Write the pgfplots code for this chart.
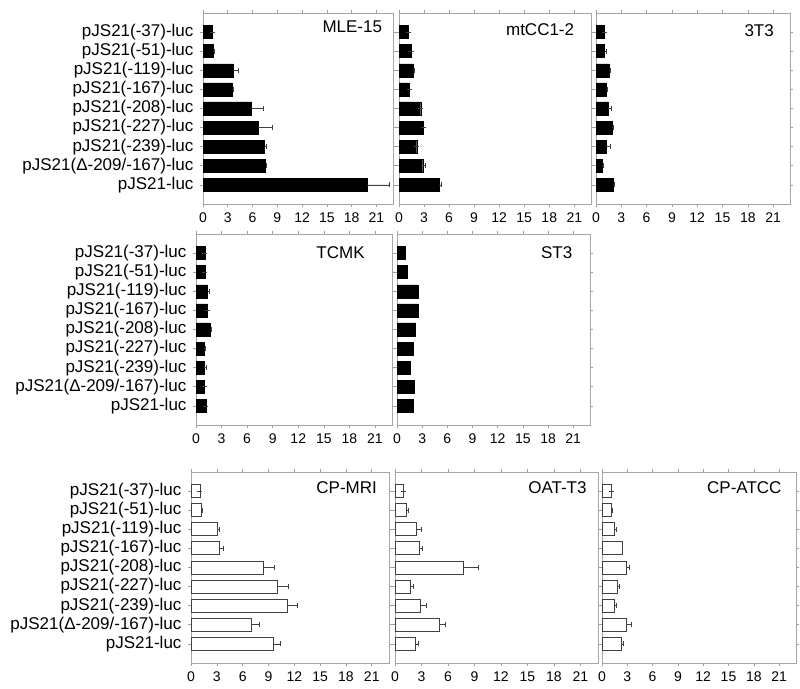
\documentclass[border=0pt]{standalone}
\usepackage{pgfplots}
\pgfplotsset{compat=1.18}
\usepackage{fontspec}
\setmainfont{Liberation Sans}
\tikzset{ttl/.style={anchor=east, font=\fontsize{17}{17}\selectfont}}
\begin{document}
\begin{tikzpicture}
\useasboundingbox (0pt,0pt) rectangle (800pt,688pt);
\pgfplotsset{
  panel/.style={
    scale only axis, anchor=north west, height=191pt,
    xmin=0, xmax=23, ymin=-1, ymax=9,
    xtick={0,3,...,21}, ytick={0,...,8},
    yticklabels={},
    tick align=outside, major tick length=3pt,
    tick style={gray!75, line width=0.6pt},
    axis line style={gray!70, line width=0.8pt},
    xticklabel style={font=\fontsize{14}{14}\selectfont, yshift=-2pt},
    yticklabel style={font=\fontsize{17}{17}\selectfont, xshift=-3pt},
    /pgf/number format/assume math mode=true,
    xbar, bar width=13pt, clip=false,
    error bars/x dir=plus, error bars/x explicit,
    error bars/error bar style={gray!50!black, line width=0.6pt},
    error bars/error mark options={rotate=90, mark size=2.5pt, gray!50!black, line width=0.6pt},
  },
  names/.style={yticklabels={pJS21-luc,pJS21(Δ-209/-167)-luc,pJS21(-239)-luc,pJS21(-227)-luc,pJS21(-208)-luc,pJS21(-167)-luc,pJS21(-119)-luc,pJS21(-51)-luc,pJS21(-37)-luc}},
  blackbar/.style={fill=black, draw=black},
  whitebar/.style={fill=white, draw=black!75, line width=0.8pt},
}
% ---------- Row 1 ----------
\begin{axis}[panel, names, at={(203pt,675pt)}, width=190pt]
\addplot[blackbar] table[x=v, y=c, x error=e] {
c v e
8 1.09 0
7 1.21 0.12
6 3.63 0.6
5 3.50 0.13
4 5.85 1.4
3 6.65 1.7
2 7.46 0.16
1 7.58 0.08
0 19.9 2.7
};
\node[ttl] at (axis cs:22.1,8.3) {MLE-15};
\end{axis}
\begin{axis}[panel, at={(399pt,675pt)}, width=192pt]
\addplot[blackbar] table[x=v, y=c, x error=e] {
c v e
8 1.12 0
7 1.44 0
6 1.72 0.12
5 1.20 0
4 2.60 0
3 2.88 0
2 2.12 0
1 2.84 0.28
0 4.84 0.24
};
\node[ttl] at (axis cs:21.4,8.15) {mtCC1-2};
\end{axis}
\begin{axis}[panel, at={(596pt,675pt)}, width=194pt]
\addplot[blackbar] table[x=v, y=c, x error=e] {
c v e
8 1.00 0
7 1.03 0.24
6 1.55 0.12
5 1.19 0.2
4 1.47 0.32
3 1.90 0.12
2 1.23 0.44
1 0.75 0.12
0 2.02 0.2
};
\node[ttl] at (axis cs:21.5,8.05) {3T3};
\end{axis}
% ---------- Row 2 ----------
\begin{axis}[panel, names, at={(196pt,454pt)}, width=196pt]
\addplot[blackbar] table[x=v, y=c, x error=e] {
c v e
8 1.05 0
7 1.05 0
6 1.36 0.15
5 1.32 0
4 1.63 0.2
3 0.97 0.08
2 0.97 0.23
1 0.97 0
0 1.16 0
};
\node[ttl] at (axis cs:20.2,8) {TCMK};
\end{axis}
\begin{axis}[panel, at={(397pt,454pt)}, width=193pt]
\addplot[blackbar, error bars/x explicit=false, error bars/x dir=none] table[x=v, y=c] {
c v
8 0.99
7 1.23
6 2.50
5 2.54
4 2.22
3 1.98
2 1.55
1 2.06
0 1.94
};
\node[ttl] at (axis cs:21.3,8) {ST3};
\end{axis}
% ---------- Row 3 ----------
\begin{axis}[panel, names, at={(191pt,216pt)}, width=198pt]
\addplot[whitebar] table[x=v, y=c, x error=e] {
c v e
8 1.04 0
7 1.16 0.12
6 3.09 0.23
5 3.28 0.42
4 8.38 1.35
3 10.04 1.31
2 11.24 1.16
1 7.03 0.85
0 9.58 0.85
};
\node[ttl] at (axis cs:22.0,8.2) {CP-MRI};
\end{axis}
\begin{axis}[panel, at={(395pt,216pt)}, width=203pt]
\addplot[whitebar] table[x=v, y=c, x error=e] {
c v e
8 0.91 0
7 1.33 0.19
6 2.47 0.49
5 2.81 0.3
4 7.76 1.63
3 1.79 0.3
2 2.93 0.57
1 5.06 0.68
0 2.36 0.23
};
\node[ttl] at (axis cs:22.1,8.2) {OAT-T3};
\end{axis}
\begin{axis}[panel, at={(602pt,216pt)}, width=194pt]
\addplot[whitebar] table[x=v, y=c, x error=e] {
c v e
8 1.07 0
7 1.11 0.08
6 1.51 0.24
5 2.38 0.08
4 2.86 0.32
3 1.79 0.28
2 1.51 0.24
1 2.94 0.52
0 2.30 0.24
};
\node[ttl] at (axis cs:21.7,8.2) {CP-ATCC};
\end{axis}
\end{tikzpicture}
\end{document}
